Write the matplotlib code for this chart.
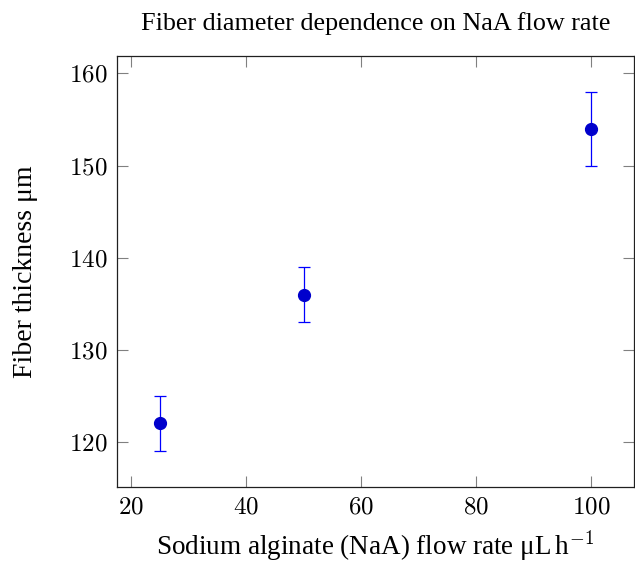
import numpy as np
import matplotlib
matplotlib.use("Agg")
import matplotlib.pyplot as plt

plt.rcParams['font.family'] = ['Liberation Serif', 'DejaVu Serif']
plt.rcParams['mathtext.fontset'] = 'cm'

# data
flow_rate = [25, 50, 100]          # uL/h
thickness = [122, 136, 154]        # um
thickness_err = [3, 3, 4]

fig = plt.figure(figsize=(6.35, 5.65), dpi=100)
ax = fig.add_axes([117/635, 78/565, 517/635, 431/565])

ax.errorbar(flow_rate, thickness, yerr=thickness_err, fmt='o',
            color='#0000ff', mfc='#0000cc', mec='#0000cc', ms=8.5,
            elinewidth=0.9, capsize=4, capthick=0.9)

ax.set_xlim(17.5, 107.5)
ax.set_ylim(115.1, 161.9)
ax.set_xticks([20, 40, 60, 80, 100])
ax.set_yticks([120, 130, 140, 150, 160])
ax.set_xticklabels(['$%d$' % v for v in [20, 40, 60, 80, 100]])
ax.set_yticklabels(['$%d$' % v for v in [120, 130, 140, 150, 160]])
ax.tick_params(direction='in', length=8, width=0.8, color='#808080',
               top=True, right=True, labelsize=18, pad=7)
for s in ax.spines.values():
    s.set_linewidth(0.9)
    s.set_color('#202020')

ax.set_xlabel(r'Sodium alginate (NaA) flow rate μL$\,$h$^{-1}$', fontsize=19.5, labelpad=7)
ax.set_ylabel('Fiber thickness μm', fontsize=20, labelpad=22)
ax.set_title('Fiber diameter dependence on NaA flow rate', fontsize=18.8, pad=19)

fig.savefig('out.png', dpi=100)
